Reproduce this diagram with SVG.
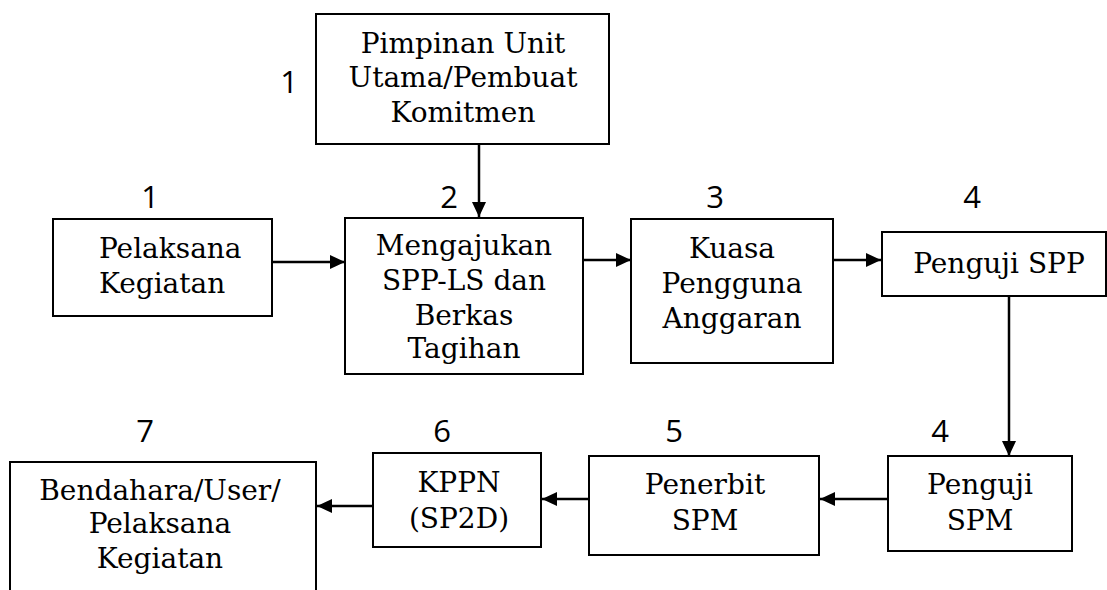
<svg xmlns="http://www.w3.org/2000/svg" width="1107" height="590" viewBox="0 0 1107 590">
  <style>
    .box { fill: #ffffff; stroke: #000000; stroke-width: 2; }
    .lbl { font-family: "DejaVu Serif", "Liberation Serif", serif; font-size: 28px; fill: #000000; text-anchor: middle; }
    .lbl-left { text-anchor: start; }
    .num { font-family: "Open Sans", "Noto Sans", "DejaVu Sans", sans-serif; font-size: 31px; fill: #000000; text-anchor: middle; }
    .conn { stroke: #000000; stroke-width: 2.5; fill: none; marker-end: url(#arrow); }
  </style>
  <defs>
    <marker id="arrow" markerUnits="userSpaceOnUse" markerWidth="16" markerHeight="14" refX="15" refY="7" orient="auto">
      <path d="M0,0 L15,7 L0,14 Z" fill="#000000"/>
    </marker>
  </defs>

  <rect width="1107" height="590" fill="#ffffff"/>

  <!-- step numbers -->
  <g id="step-numbers">
    <text class="num" x="289" y="93">1</text>
    <text class="num" x="150" y="208">1</text>
    <text class="num" x="449" y="208">2</text>
    <text class="num" x="715" y="208">3</text>
    <text class="num" x="972" y="208">4</text>
    <text class="num" x="145" y="442">7</text>
    <text class="num" x="442" y="442">6</text>
    <text class="num" x="674" y="442">5</text>
    <text class="num" x="940" y="442">4</text>
  </g>

  <g id="node-pimpinan">
    <rect class="box" x="316" y="14" width="293" height="130"/>
    <text class="lbl" x="463" y="53">Pimpinan Unit</text>
    <text class="lbl" x="463" y="87">Utama/Pembuat</text>
    <text class="lbl" x="463" y="122">Komitmen</text>
  </g>

  <g id="node-pelaksana">
    <rect class="box" x="53" y="219" width="219" height="97"/>
    <text class="lbl lbl-left" x="99" y="258">Pelaksana</text>
    <text class="lbl lbl-left" x="99" y="293">Kegiatan</text>
  </g>

  <g id="node-mengajukan">
    <rect class="box" x="345" y="218" width="238" height="156"/>
    <text class="lbl" x="464" y="255">Mengajukan</text>
    <text class="lbl" x="464" y="290">SPP-LS dan</text>
    <text class="lbl" x="464" y="325">Berkas</text>
    <text class="lbl" x="464" y="358">Tagihan</text>
  </g>

  <g id="node-kpa">
    <rect class="box" x="631" y="219" width="202" height="144"/>
    <text class="lbl" x="732" y="258">Kuasa</text>
    <text class="lbl" x="732" y="293">Pengguna</text>
    <text class="lbl" x="732" y="328">Anggaran</text>
  </g>

  <g id="node-penguji-spp">
    <rect class="box" x="882" y="232" width="224" height="64"/>
    <text class="lbl" x="999" y="273">Penguji SPP</text>
  </g>

  <g id="node-penguji-spm">
    <rect class="box" x="888" y="456" width="184" height="95"/>
    <text class="lbl" x="980" y="494">Penguji</text>
    <text class="lbl" x="980" y="530">SPM</text>
  </g>

  <g id="node-penerbit-spm">
    <rect class="box" x="589" y="456" width="230" height="99"/>
    <text class="lbl" x="705" y="494">Penerbit</text>
    <text class="lbl" x="705" y="530">SPM</text>
  </g>

  <g id="node-kppn">
    <rect class="box" x="373" y="453" width="168" height="94"/>
    <text class="lbl" x="459" y="492">KPPN</text>
    <text class="lbl" x="459" y="528">(SP2D)</text>
  </g>

  <g id="node-bendahara">
    <path class="box" d="M10,600 L10,462 L316,462 L316,600"/>
    <text class="lbl" x="160" y="500">Bendahara/User/</text>
    <text class="lbl" x="160" y="533">Pelaksana</text>
    <text class="lbl" x="160" y="568">Kegiatan</text>
  </g>

  <g id="connectors">
    <line class="conn" x1="479" y1="145" x2="479" y2="217"/>
    <line class="conn" x1="272" y1="262" x2="345" y2="262"/>
    <line class="conn" x1="583" y1="260" x2="631" y2="260"/>
    <line class="conn" x1="833" y1="260" x2="881" y2="260"/>
    <line class="conn" x1="1009" y1="296" x2="1009" y2="456"/>
    <line class="conn" x1="888" y1="499" x2="820" y2="499"/>
    <line class="conn" x1="589" y1="499" x2="542" y2="499"/>
    <line class="conn" x1="373" y1="506" x2="317" y2="506"/>
  </g>
</svg>
